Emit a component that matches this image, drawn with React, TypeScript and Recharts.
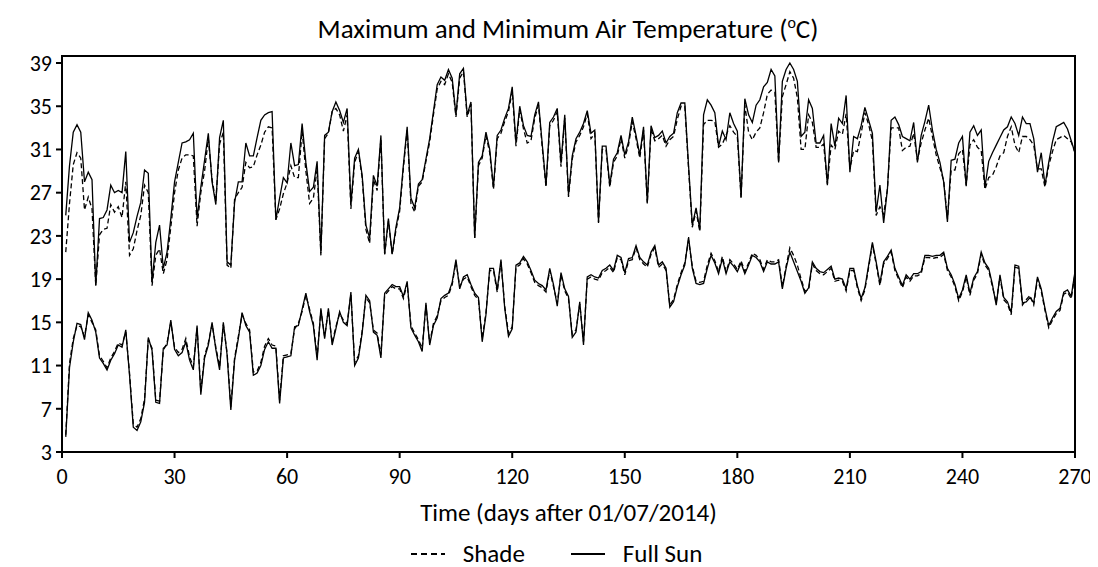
import React from 'react';
import {LineChart, Line, XAxis, YAxis, Legend, ReferenceArea} from 'recharts';

// Full Sun maximum, days 1-270
const sunMax = [
  24.9, 29.5, 32.6, 33.3, 32.6, 28.0, 28.9, 28.2, 18.4, 24.6,
  24.7, 25.4, 27.7, 27.0, 27.2, 27.0, 30.8, 22.4, 23.3, 24.8,
  26.1, 29.1, 28.8, 18.7, 22.4, 24.0, 20.0, 21.5, 24.6, 28.0,
  29.8, 31.6, 31.7, 31.9, 32.5, 24.6, 27.5, 30.0, 32.5, 28.0,
  25.9, 32.1, 33.7, 20.6, 20.3, 26.1, 28.0, 28.0, 31.6, 30.4,
  30.4, 32.1, 33.7, 34.2, 34.4, 34.5, 24.5, 26.5, 28.4, 27.9,
  31.6, 29.5, 29.6, 33.4, 29.8, 27.1, 27.5, 29.9, 21.4, 32.3,
  32.6, 34.5, 35.4, 34.6, 33.5, 34.8, 25.9, 30.2, 31.0, 28.6,
  24.0, 22.8, 28.6, 27.6, 32.3, 21.3, 24.6, 21.3, 23.8, 25.6,
  29.6, 33.1, 26.5, 25.6, 27.8, 28.2, 30.1, 32.0, 34.5, 37.0,
  37.7, 37.4, 38.4, 37.6, 34.2, 38.0, 38.5, 34.2, 35.4, 22.8,
  29.8, 30.4, 32.6, 31.0, 27.5, 32.3, 32.8, 33.9, 34.8, 36.8,
  31.6, 35.0, 33.2, 32.3, 32.2, 34.2, 35.4, 31.5, 27.7, 33.5,
  34.0, 34.8, 29.7, 34.2, 26.8, 30.4, 32.0, 32.6, 33.4, 34.6,
  32.5, 32.8, 24.3, 31.3, 31.3, 27.7, 30.1, 30.7, 32.3, 30.5,
  31.7, 34.0, 32.3, 30.5, 33.1, 26.1, 33.2, 32.1, 32.3, 32.7,
  31.6, 32.2, 32.5, 34.4, 35.3, 35.3, 29.5, 24.0, 25.6, 23.6,
  34.2, 35.6, 35.1, 34.4, 31.3, 32.7, 31.9, 34.4, 33.4, 32.7,
  26.6, 35.7, 34.2, 33.5, 35.1, 35.6, 36.8, 37.2, 38.4, 37.8,
  29.8, 37.3, 38.4, 39.0, 38.4, 37.3, 32.2, 32.6, 35.6, 34.8,
  31.6, 31.6, 32.3, 27.7, 33.4, 31.3, 33.9, 33.4, 36.0, 28.9,
  32.2, 32.0, 33.2, 34.9, 33.7, 32.5, 25.2, 27.7, 24.2, 27.3,
  33.7, 34.0, 33.3, 32.2, 32.0, 31.8, 33.5, 29.8, 32.3, 33.6,
  35.1, 32.8, 31.0, 29.8, 28.0, 24.3, 30.0, 30.1, 31.6, 32.2,
  27.6, 32.6, 33.2, 32.3, 32.8, 27.5, 29.9, 30.7, 31.4, 32.1,
  32.8, 33.1, 34.0, 33.4, 32.3, 34.0, 33.4, 33.4, 32.0, 28.9,
  30.7, 27.7, 29.8, 31.7, 33.1, 33.3, 33.5, 32.9, 31.8, 30.7,
];

// Shade maximum
const shadeMax = [
  21.5, 26.0, 29.6, 30.7, 30.2, 25.4, 26.6, 25.5, 18.4, 23.1,
  23.6, 23.7, 25.9, 25.2, 25.7, 24.7, 28.0, 21.2, 21.8, 23.5,
  24.9, 27.7, 27.0, 18.4, 21.2, 21.8, 19.5, 20.8, 23.8, 27.0,
  29.1, 30.2, 30.5, 30.5, 30.4, 23.9, 27.0, 29.0, 32.0, 28.2,
  26.2, 31.5, 32.6, 20.3, 20.0, 26.4, 27.0, 27.5, 29.8, 29.3,
  29.4, 30.5, 31.4, 32.6, 33.1, 33.0, 24.5, 25.5, 26.9, 27.9,
  29.5, 28.4, 28.4, 32.7, 29.0, 26.0, 26.5, 29.2, 21.2, 32.0,
  32.5, 34.5, 34.8, 34.2, 32.7, 34.2, 25.5, 29.8, 30.8, 28.4,
  23.6, 22.3, 28.2, 27.2, 32.0, 21.3, 24.4, 21.3, 23.5, 25.3,
  29.3, 32.8, 26.0, 25.2, 27.6, 28.0, 29.9, 31.7, 34.2, 36.6,
  37.3, 37.0, 38.0, 37.2, 34.0, 37.6, 38.2, 34.0, 35.2, 22.8,
  29.5, 30.2, 32.3, 30.7, 27.3, 32.0, 32.5, 33.6, 34.5, 36.4,
  31.3, 34.7, 32.9, 31.6, 31.8, 33.9, 35.1, 31.2, 27.5, 33.2,
  33.7, 34.5, 29.4, 33.9, 26.6, 30.1, 31.7, 32.3, 33.1, 34.3,
  32.0, 32.5, 24.2, 31.0, 31.0, 27.5, 29.8, 30.4, 32.0, 30.2,
  31.4, 33.6, 32.0, 30.2, 32.8, 26.0, 32.9, 31.8, 32.0, 32.3,
  31.3, 31.9, 32.2, 33.8, 35.0, 35.0, 29.2, 23.8, 25.3, 23.4,
  33.3, 33.7, 33.7, 33.6, 31.2, 31.5, 32.3, 33.2, 32.6, 32.2,
  26.5, 35.1, 32.6, 31.9, 32.6, 33.0, 34.4, 36.1, 36.5, 36.3,
  29.8, 35.9, 37.0, 38.2, 37.6, 35.8, 31.0, 31.0, 34.2, 33.5,
  31.2, 31.2, 31.5, 27.8, 31.4, 31.0, 32.7, 32.4, 34.3, 29.2,
  30.9, 30.8, 32.5, 34.4, 33.3, 31.8, 24.9, 25.7, 25.0, 27.3,
  33.0, 33.0, 33.0, 30.9, 31.2, 31.3, 32.5, 30.0, 31.6, 32.8,
  33.9, 32.2, 30.5, 29.3, 28.1, 24.6, 29.1, 29.1, 30.6, 31.0,
  27.7, 31.4, 31.9, 31.2, 30.9, 27.3, 28.4, 28.6, 29.4, 30.4,
  30.7, 32.2, 33.1, 31.4, 30.7, 32.2, 32.2, 31.9, 31.4, 29.2,
  29.2, 27.5, 29.5, 30.8, 31.9, 32.1, 32.3, 32.0, 31.7, 30.7,
];

// Full Sun minimum
const sunMin = [
  4.4, 10.8, 13.2, 14.9, 14.8, 13.4, 15.9, 15.2, 14.1, 11.7,
  11.2, 10.6, 11.5, 12.1, 12.9, 12.7, 14.3, 10.1, 5.3, 5.0,
  5.8, 7.6, 13.6, 12.4, 7.6, 7.5, 12.6, 12.9, 15.2, 12.5,
  11.9, 12.2, 13.2, 11.5, 10.6, 14.7, 8.3, 11.7, 12.9, 15.0,
  12.5, 10.6, 15.0, 12.0, 6.9, 11.5, 13.5, 15.9, 14.7, 14.1,
  10.1, 10.3, 11.0, 12.5, 13.2, 12.6, 12.6, 7.5, 11.7, 11.8,
  11.9, 14.6, 14.7, 16.2, 17.7, 16.0, 14.7, 11.5, 16.3, 13.5,
  16.3, 12.9, 14.4, 16.0, 15.0, 14.7, 17.8, 11.0, 11.7, 14.0,
  17.5, 17.0, 14.1, 13.8, 11.7, 17.7, 18.1, 18.5, 18.3, 18.3,
  17.4, 18.8, 14.5, 13.8, 13.2, 12.3, 16.8, 12.9, 14.7, 15.4,
  17.2, 17.5, 17.7, 18.7, 20.8, 18.1, 19.2, 19.4, 18.5, 17.7,
  17.3, 13.2, 15.7, 20.0, 20.0, 18.0, 20.8, 16.3, 13.7, 14.4,
  20.3, 20.5, 21.1, 20.6, 19.8, 18.9, 18.6, 18.4, 18.0, 20.0,
  18.5, 16.5, 19.6, 18.1, 17.4, 13.6, 14.1, 16.9, 12.9, 19.2,
  19.4, 19.2, 19.1, 19.8, 20.0, 20.3, 19.8, 21.2, 21.0, 19.6,
  20.9, 21.0, 22.1, 21.0, 20.6, 20.3, 21.5, 22.1, 20.3, 20.6,
  20.0, 16.4, 16.9, 18.3, 19.4, 20.3, 22.9, 20.0, 18.6, 18.5,
  18.6, 20.0, 21.2, 20.5, 19.5, 20.9, 19.5, 20.6, 20.2, 19.7,
  20.5, 19.5, 20.3, 21.2, 21.0, 20.6, 19.7, 20.6, 20.4, 20.4,
  20.6, 18.1, 20.0, 21.5, 20.6, 19.7, 18.8, 17.7, 18.2, 20.6,
  20.0, 19.7, 19.6, 19.9, 20.2, 19.0, 19.1, 19.0, 18.1, 20.0,
  20.0, 18.4, 17.2, 18.2, 20.3, 22.4, 20.6, 18.6, 20.6, 21.1,
  21.7, 20.0, 19.2, 18.4, 19.4, 19.0, 19.5, 19.5, 19.7, 21.2,
  21.2, 21.1, 21.2, 21.2, 21.5, 20.0, 19.4, 18.5, 17.2, 18.0,
  19.4, 17.7, 19.1, 19.7, 21.5, 20.5, 20.0, 18.5, 16.6, 19.4,
  17.3, 16.9, 15.9, 20.3, 20.2, 16.8, 16.9, 17.3, 16.8, 19.2,
  18.1, 16.3, 14.7, 15.4, 16.0, 16.3, 17.8, 18.0, 17.4, 19.7,
];

// Shade minimum
const shadeMin = [
  4.6, 11.2, 13.5, 14.7, 14.6, 13.7, 15.7, 15.0, 14.3, 11.9,
  11.4, 10.8, 11.7, 12.3, 13.1, 12.9, 14.1, 10.3, 5.6, 5.3,
  6.1, 7.9, 13.4, 12.6, 7.8, 7.7, 12.4, 13.1, 15.0, 12.7,
  12.2, 12.5, 13.5, 11.8, 10.9, 14.5, 8.6, 11.9, 13.1, 14.8,
  12.7, 10.9, 14.8, 12.2, 7.2, 11.7, 13.7, 15.7, 14.9, 14.3,
  10.4, 10.5, 11.3, 12.8, 13.5, 12.9, 12.8, 7.8, 11.9, 12.0,
  12.1, 14.4, 14.9, 16.0, 17.5, 16.2, 14.9, 11.8, 16.1, 13.7,
  16.1, 13.1, 14.6, 15.8, 15.2, 14.9, 17.6, 11.3, 11.9, 14.2,
  17.3, 16.8, 14.3, 14.0, 12.0, 17.5, 17.9, 18.3, 18.1, 18.1,
  17.2, 18.6, 14.7, 14.0, 13.4, 12.6, 16.6, 13.1, 14.9, 15.6,
  17.0, 17.3, 17.5, 18.5, 20.6, 18.3, 19.0, 19.2, 18.3, 17.5,
  17.1, 13.5, 15.9, 19.8, 19.8, 17.8, 20.6, 16.5, 14.0, 14.6,
  20.1, 20.3, 20.9, 20.4, 19.6, 18.7, 18.4, 18.2, 17.8, 19.8,
  18.3, 16.8, 19.4, 17.9, 17.2, 13.9, 14.3, 16.7, 13.2, 19.0,
  19.2, 19.0, 18.9, 19.6, 19.8, 20.1, 19.6, 21.0, 20.8, 19.4,
  20.7, 20.8, 21.9, 20.8, 20.4, 20.1, 21.3, 21.9, 20.1, 20.4,
  19.8, 16.6, 17.1, 18.5, 19.6, 20.5, 22.6, 20.2, 18.8, 18.7,
  18.8, 20.3, 21.4, 20.7, 19.7, 21.1, 19.7, 20.8, 20.4, 19.9,
  20.7, 19.7, 20.5, 21.4, 21.2, 20.8, 19.9, 20.8, 20.6, 20.6,
  20.8, 18.3, 20.2, 21.9, 21.2, 20.3, 19.0, 17.9, 18.0, 20.4,
  19.8, 19.5, 19.4, 19.7, 20.0, 18.8, 18.9, 18.8, 17.9, 19.8,
  19.8, 18.2, 17.0, 18.0, 20.1, 22.2, 20.4, 18.4, 20.4, 20.9,
  21.5, 19.8, 19.0, 18.2, 19.2, 18.8, 19.3, 19.3, 19.5, 21.0,
  21.0, 20.9, 21.0, 21.0, 21.3, 19.8, 19.2, 18.3, 17.0, 17.8,
  19.2, 17.5, 18.9, 19.5, 21.3, 20.3, 19.8, 18.3, 16.8, 19.2,
  17.1, 16.7, 15.7, 20.1, 20.0, 16.6, 17.1, 17.5, 16.6, 19.0,
  17.9, 16.1, 14.5, 15.2, 15.8, 16.1, 17.6, 17.8, 17.2, 19.5,
];

const xTicks = [0, 30, 60, 90, 120, 150, 180, 210, 240, 270];
const yTicks = [3, 7, 11, 15, 19, 23, 27, 31, 35, 39];
const legendOrder = ['Shade', 'Full Sun'];

const font = "Carlito, Lato, 'Open Sans', sans-serif";

const data = sunMax.map((v, i) => ({
  day: i + 1,
  sunMax: v,
  shadeMax: shadeMax[i],
  sunMin: sunMin[i],
  shadeMin: shadeMin[i],
}));

function LegendBox(props: any) {
  const items = (props.payload || [])
    .filter((p: any) => p.type !== 'none')
    .sort((a: any, b: any) => legendOrder.indexOf(a.value) - legendOrder.indexOf(b.value));
  return (
    <div style={{display: 'flex', justifyContent: 'center', gap: 44, fontFamily: font, fontSize: 25, height: 26, lineHeight: '26px', paddingLeft: 14}}>
      {items.map((p: any) => (
        <div key={p.value} style={{display: 'flex', alignItems: 'center'}}>
          <svg width={38} height={12} style={{marginRight: 16}}>
            <line x1={2} y1={6} x2={36} y2={6} stroke="#000" strokeWidth={2}
                  strokeDasharray={p.value === 'Shade' ? '6 4' : undefined}/>
          </svg>
          <span>{p.value}</span>
        </div>
      ))}
    </div>
  );
}

export default function App() {
  return (
    <div style={{position: 'relative', width: 1090, height: 559, fontFamily: font}}>
      <div style={{position: 'absolute', top: 4, left: 0, width: 1090, textAlign: 'center', fontSize: 27, color: '#000'}}>
        <span style={{marginLeft: 30}}>Maximum and Minimum Air Temperature (<sup style={{fontSize: 16}}>o</sup>C)</span>
      </div>
      <LineChart width={1090} height={559} data={data} margin={{top: 48, right: 23, left: 14, bottom: 0}}>
        <XAxis dataKey="day" type="number" domain={[0, 270]} ticks={xTicks} interval={0}
               stroke="#000" strokeWidth={2} tickSize={6} tickMargin={10} height={89}
               tick={{fill: '#000', fontSize: 22, fontFamily: font}}
               label={{value: 'Time (days after 01/07/2014)', position: 'insideBottom', offset: 20, fill: '#000', fontSize: 25, fontFamily: font}}/>
        <YAxis type="number" domain={[3, 39.65]} ticks={yTicks} interval={0} width={40}
               stroke="#000" strokeWidth={2} tickSize={6} tickMargin={4}
               tick={{fill: '#000', fontSize: 22, fontFamily: font}}/>
        <ReferenceArea x1={0} x2={270} y1={3} y2={39.65} fill="none" stroke="#000" strokeWidth={2} ifOverflow="visible"/>
        <Legend verticalAlign="bottom" content={<LegendBox/>}/>
        <Line dataKey="shadeMax" name="Shade" stroke="#000" strokeWidth={1.3} strokeDasharray="5 3"
              dot={false} isAnimationActive={false}/>
        <Line dataKey="sunMax" name="Full Sun" stroke="#000" strokeWidth={1.3}
              dot={false} isAnimationActive={false}/>
        <Line dataKey="shadeMin" legendType="none" stroke="#000" strokeWidth={1.3} strokeDasharray="5 3"
              dot={false} isAnimationActive={false}/>
        <Line dataKey="sunMin" legendType="none" stroke="#000" strokeWidth={1.3}
              dot={false} isAnimationActive={false}/>
      </LineChart>
    </div>
  );
}
